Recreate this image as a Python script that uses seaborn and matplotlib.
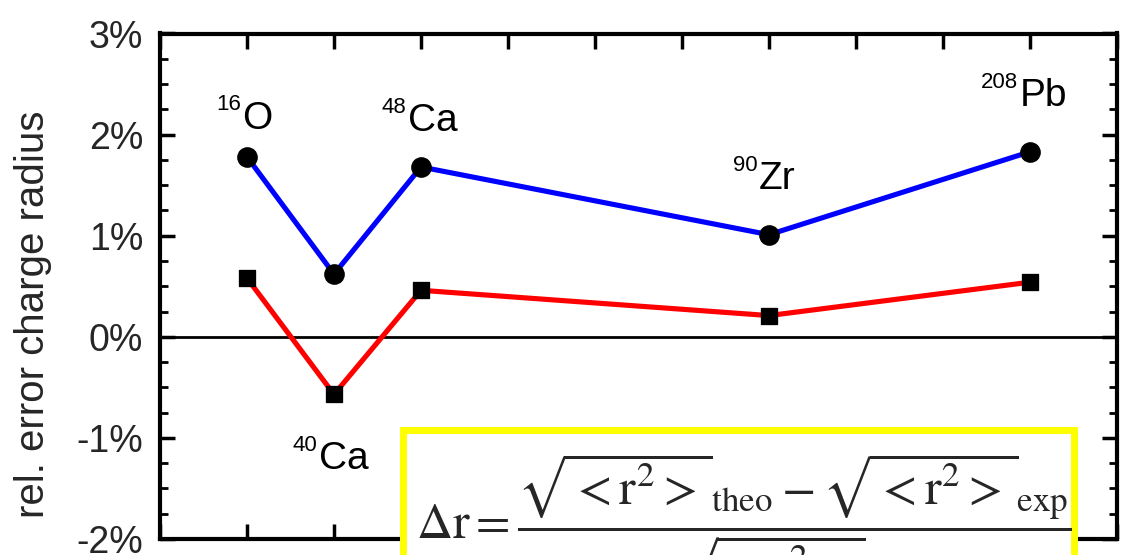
import matplotlib
matplotlib.use("Agg")
import matplotlib.pyplot as plt
import seaborn as sns
import pandas as pd
from matplotlib.patches import Rectangle
from matplotlib.ticker import MultipleLocator, FuncFormatter
from matplotlib.transforms import offset_copy

nuclei = ["16O", "40Ca", "48Ca", "90Zr", "208Pb"]
mass_numbers = ["16", "40", "48", "90", "208"]
elements = ["O", "Ca", "Ca", "Zr", "Pb"]
xpos = [1, 2, 3, 7, 10]
blue_vals = [1.78, 0.62, 1.68, 1.01, 1.83]
red_vals = [0.58, -0.57, 0.46, 0.21, 0.54]
label_x = [0.98, 1.97, 2.99, 6.95, 9.94]
label_y = [2.06, -1.31, 2.04, 1.46, 2.28]

sns.set_theme(style="white")
plt.rcParams["font.family"] = ["Liberation Sans", "DejaVu Sans"]

df = pd.DataFrame({"x": xpos * 2,
                   "val": blue_vals + red_vals,
                   "series": ["blue"] * 5 + ["red"] * 5})

fig = plt.figure(figsize=(11.24, 5.55), dpi=100)
ax = fig.add_axes([160 / 1124, 1 - 539 / 555, (1117 - 160) / 1124, (539 - 33.5) / 555])

ax.axhline(0, color="black", lw=2, zorder=1)
sns.lineplot(data=df[df.series == "blue"], x="x", y="val", color="#0000ff", lw=3.7, ax=ax, zorder=2)
sns.lineplot(data=df[df.series == "red"], x="x", y="val", color="#ff0000", lw=3.7, ax=ax, zorder=2)
sns.scatterplot(data=df[df.series == "blue"], x="x", y="val", color="black", marker="o", s=190,
                edgecolor="black", ax=ax, zorder=3)
sns.scatterplot(data=df[df.series == "red"], x="x", y="val", color="black", marker="s", s=140,
                edgecolor="black", ax=ax, zorder=3)

ax.set_xlim(0, 11)
ax.set_ylim(-2, 3)
ax.xaxis.set_major_locator(MultipleLocator(1))
ax.yaxis.set_major_locator(MultipleLocator(1))
ax.yaxis.set_minor_locator(MultipleLocator(0.25))
ax.yaxis.set_major_formatter(FuncFormatter(lambda v, p: f"{int(round(v))}%"))
ax.tick_params(axis="both", which="both", direction="in", top=True, right=True, bottom=True, left=True,
               color="black")
ax.tick_params(axis="both", which="major", length=11, width=2.5, labelsize=27, pad=12)
ax.tick_params(axis="y", which="minor", length=6, width=2)
ax.tick_params(axis="x", labelbottom=False)
for s in ax.spines.values():
    s.set_color("black")
    s.set_linewidth(3)
ax.set_xlabel("")
ax.set_ylabel("rel. error charge radius", fontsize=29)
ax.yaxis.set_label_coords(-0.113, 0.444)
leg = ax.get_legend()
if leg:
    leg.remove()

# nucleus labels: small superscript mass number + element symbol, centred as a unit
fig.canvas.draw()
renderer = fig.canvas.get_renderer()
for lx, ly, a, el in zip(label_x, label_y, mass_numbers, elements):
    tm = ax.text(lx, ly, el, fontsize=28, ha="left", va="baseline", color="black")
    ts = ax.text(lx, ly, a, fontsize=16, ha="right", va="baseline", color="black")
    wm = tm.get_window_extent(renderer).width
    wsup = ts.get_window_extent(renderer).width
    shift_px = (wsup - wm) / 2.0
    shift_pt = shift_px * 72.0 / fig.dpi
    tm.set_transform(offset_copy(ax.transData, fig=fig, x=shift_pt, y=0, units="points"))
    ts.set_transform(offset_copy(ax.transData, fig=fig, x=shift_pt - 1, y=13, units="points"))

# formula box
rect = Rectangle((403 / 1124, -0.2), (1074 - 403) / 1124, 0.2 + 1 - 430 / 555,
                 transform=fig.transFigure, facecolor="white", edgecolor="#ffff00", lw=5, zorder=10)
fig.patches.append(rect)
fig.text(416 / 1124, 1 - 539 / 555,
         r"$\Delta\mathrm{r} = \dfrac{\sqrt{<\mathrm{r}^2>}_{\mathrm{theo}} - \sqrt{<\mathrm{r}^2>}_{\mathrm{exp}}}{\sqrt{<\mathrm{r}^2>}_{\mathrm{exp}}}$",
         fontsize=36, ha="left", va="baseline", zorder=11,
         math_fontfamily="stix")

fig.savefig("out.png", dpi=100)
